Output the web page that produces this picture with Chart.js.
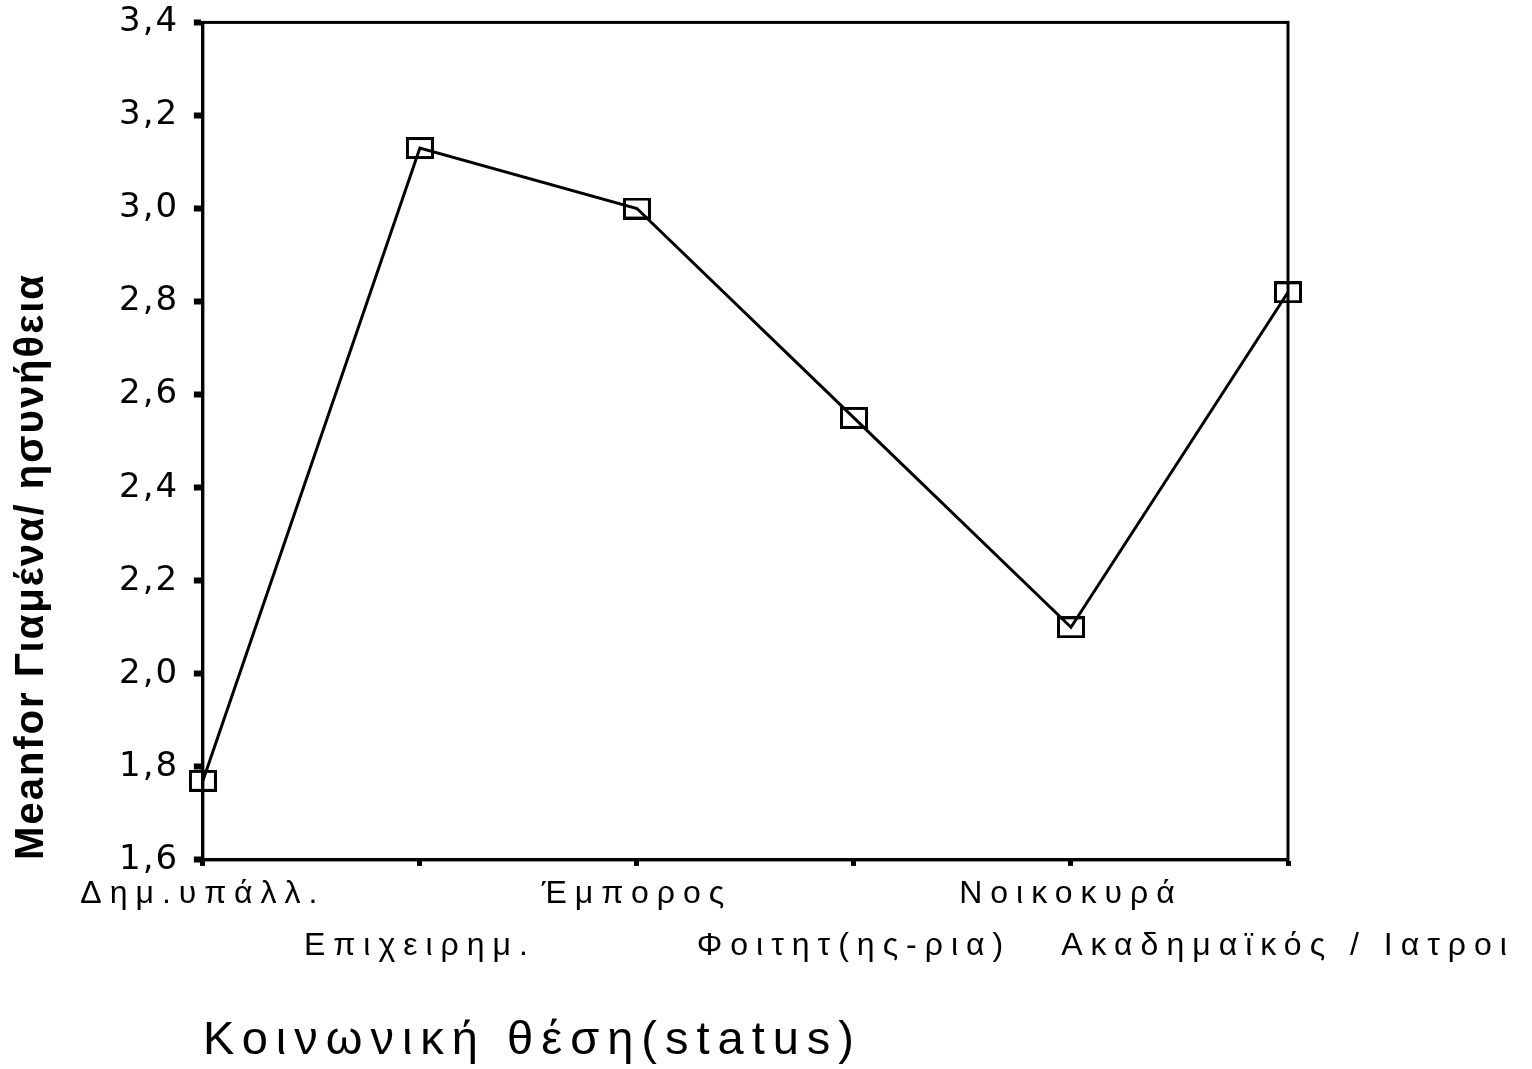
<!DOCTYPE html>
<html>
<head>
<meta charset="utf-8">
<script src="https://cdn.jsdelivr.net/npm/chart.js@4"></script>
<style>
  html, body { margin: 0; padding: 0; background: #fff; }
  #wrap { width: 1532px; height: 1069px; }
</style>
</head>
<body>
<div id="wrap"><canvas id="status-chart"></canvas></div>
<script>
const categories = ["Δημ.υπάλλ.", "Επιχειρημ.", "Έμπορος", "Φοιτητ(ης-ρια)", "Νοικοκυρά", "Ακαδημαϊκός / Ιατροι"];
const means = [1.77, 3.13, 3.00, 2.55, 2.10, 2.82];
const yMin = 1.6;
const yMax = 3.4;
const yStep = 0.2;

const FONT = "Liberation Sans, Arial, sans-serif";
const WIDE = "8px";   // x labels and x title
const TIGHT = "2px";  // y labels and y title

// hollow rectangle marker, a bit wider than tall
function boxMarker() {
  const c = document.createElement("canvas");
  c.width = 28;
  c.height = 22;
  const g = c.getContext("2d");
  g.strokeStyle = "#000";
  g.lineWidth = 3;
  g.strokeRect(1.5, 1.5, 25, 19);
  return c;
}

// layers at z <= 0 (the y axis) are drawn before the datasets and the
// x axis (z 1) after them, so the letter spacing is switched in between
const lettering = {
  id: "lettering",
  beforeLayout(chart) {
    chart.ctx.letterSpacing = TIGHT;
  },
  beforeDraw(chart) {
    chart.ctx.letterSpacing = TIGHT;
  },
  beforeDatasetsDraw(chart) {
    chart.ctx.letterSpacing = WIDE;
  },
  afterDraw(chart) {
    const { ctx, chartArea: a } = chart;
    ctx.save();
    ctx.strokeStyle = "#000";
    ctx.lineWidth = 3;
    ctx.strokeRect(a.left, a.top, a.right - a.left, a.bottom - a.top);
    ctx.restore();
  },
};

const ctx = document.getElementById("status-chart").getContext("2d");

new Chart(ctx, {
  type: "line",
  data: {
    labels: categories,
    datasets: [
      {
        data: means,
        borderColor: "#000",
        borderWidth: 3,
        fill: false,
        tension: 0,
        pointStyle: boxMarker(),
        pointRadius: 12,
      },
    ],
  },
  plugins: [lettering],
  options: {
    responsive: true,
    maintainAspectRatio: false,
    animation: false,
    layout: {
      padding: { left: 8, right: 244, top: 0, bottom: 0 },
    },
    plugins: {
      legend: { display: false },
      tooltip: { enabled: false },
    },
    scales: {
      x: {
        offset: false,
        grid: {
          z: 1,
          drawOnChartArea: false,
          drawTicks: true,
          tickLength: 6,
          tickWidth: 5,
          tickColor: "#000",
        },
        border: { z: 1, color: "#000", width: 3 },
        ticks: {
          z: 1,
          autoSkip: false,
          maxRotation: 0,
          padding: 2,
          color: "#000",
          font: { family: FONT, size: 32, lineHeight: 1.62 },
          callback: (v, i) => (i % 2 ? ["", categories[i]] : categories[i]),
        },
        title: {
          display: true,
          align: "start",
          text: "Κοινωνική θέση(status)",
          color: "#000",
          font: { family: FONT, size: 47 },
          padding: { top: 39, bottom: 0 },
        },
      },
      y: {
        min: yMin,
        max: yMax,
        grid: {
          drawOnChartArea: false,
          drawTicks: true,
          tickLength: 9,
          tickWidth: 6,
          tickColor: "#000",
        },
        border: { color: "#000", width: 3 },
        ticks: {
          stepSize: yStep,
          padding: 2,
          color: "#000",
          font: { family: "DejaVu Sans, sans-serif", size: 34 },
          callback: (v) => v.toFixed(1).replace(".", ",") + " ",
        },
        title: {
          display: true,
          align: "start",
          text: "Meanfor Γιαμένα/ ησυνήθεια",
          color: "#000",
          font: { family: FONT, size: 40, weight: "bold" },
          padding: { top: 0, bottom: 61 },
        },
      },
    },
  },
});
</script>
</body>
</html>
